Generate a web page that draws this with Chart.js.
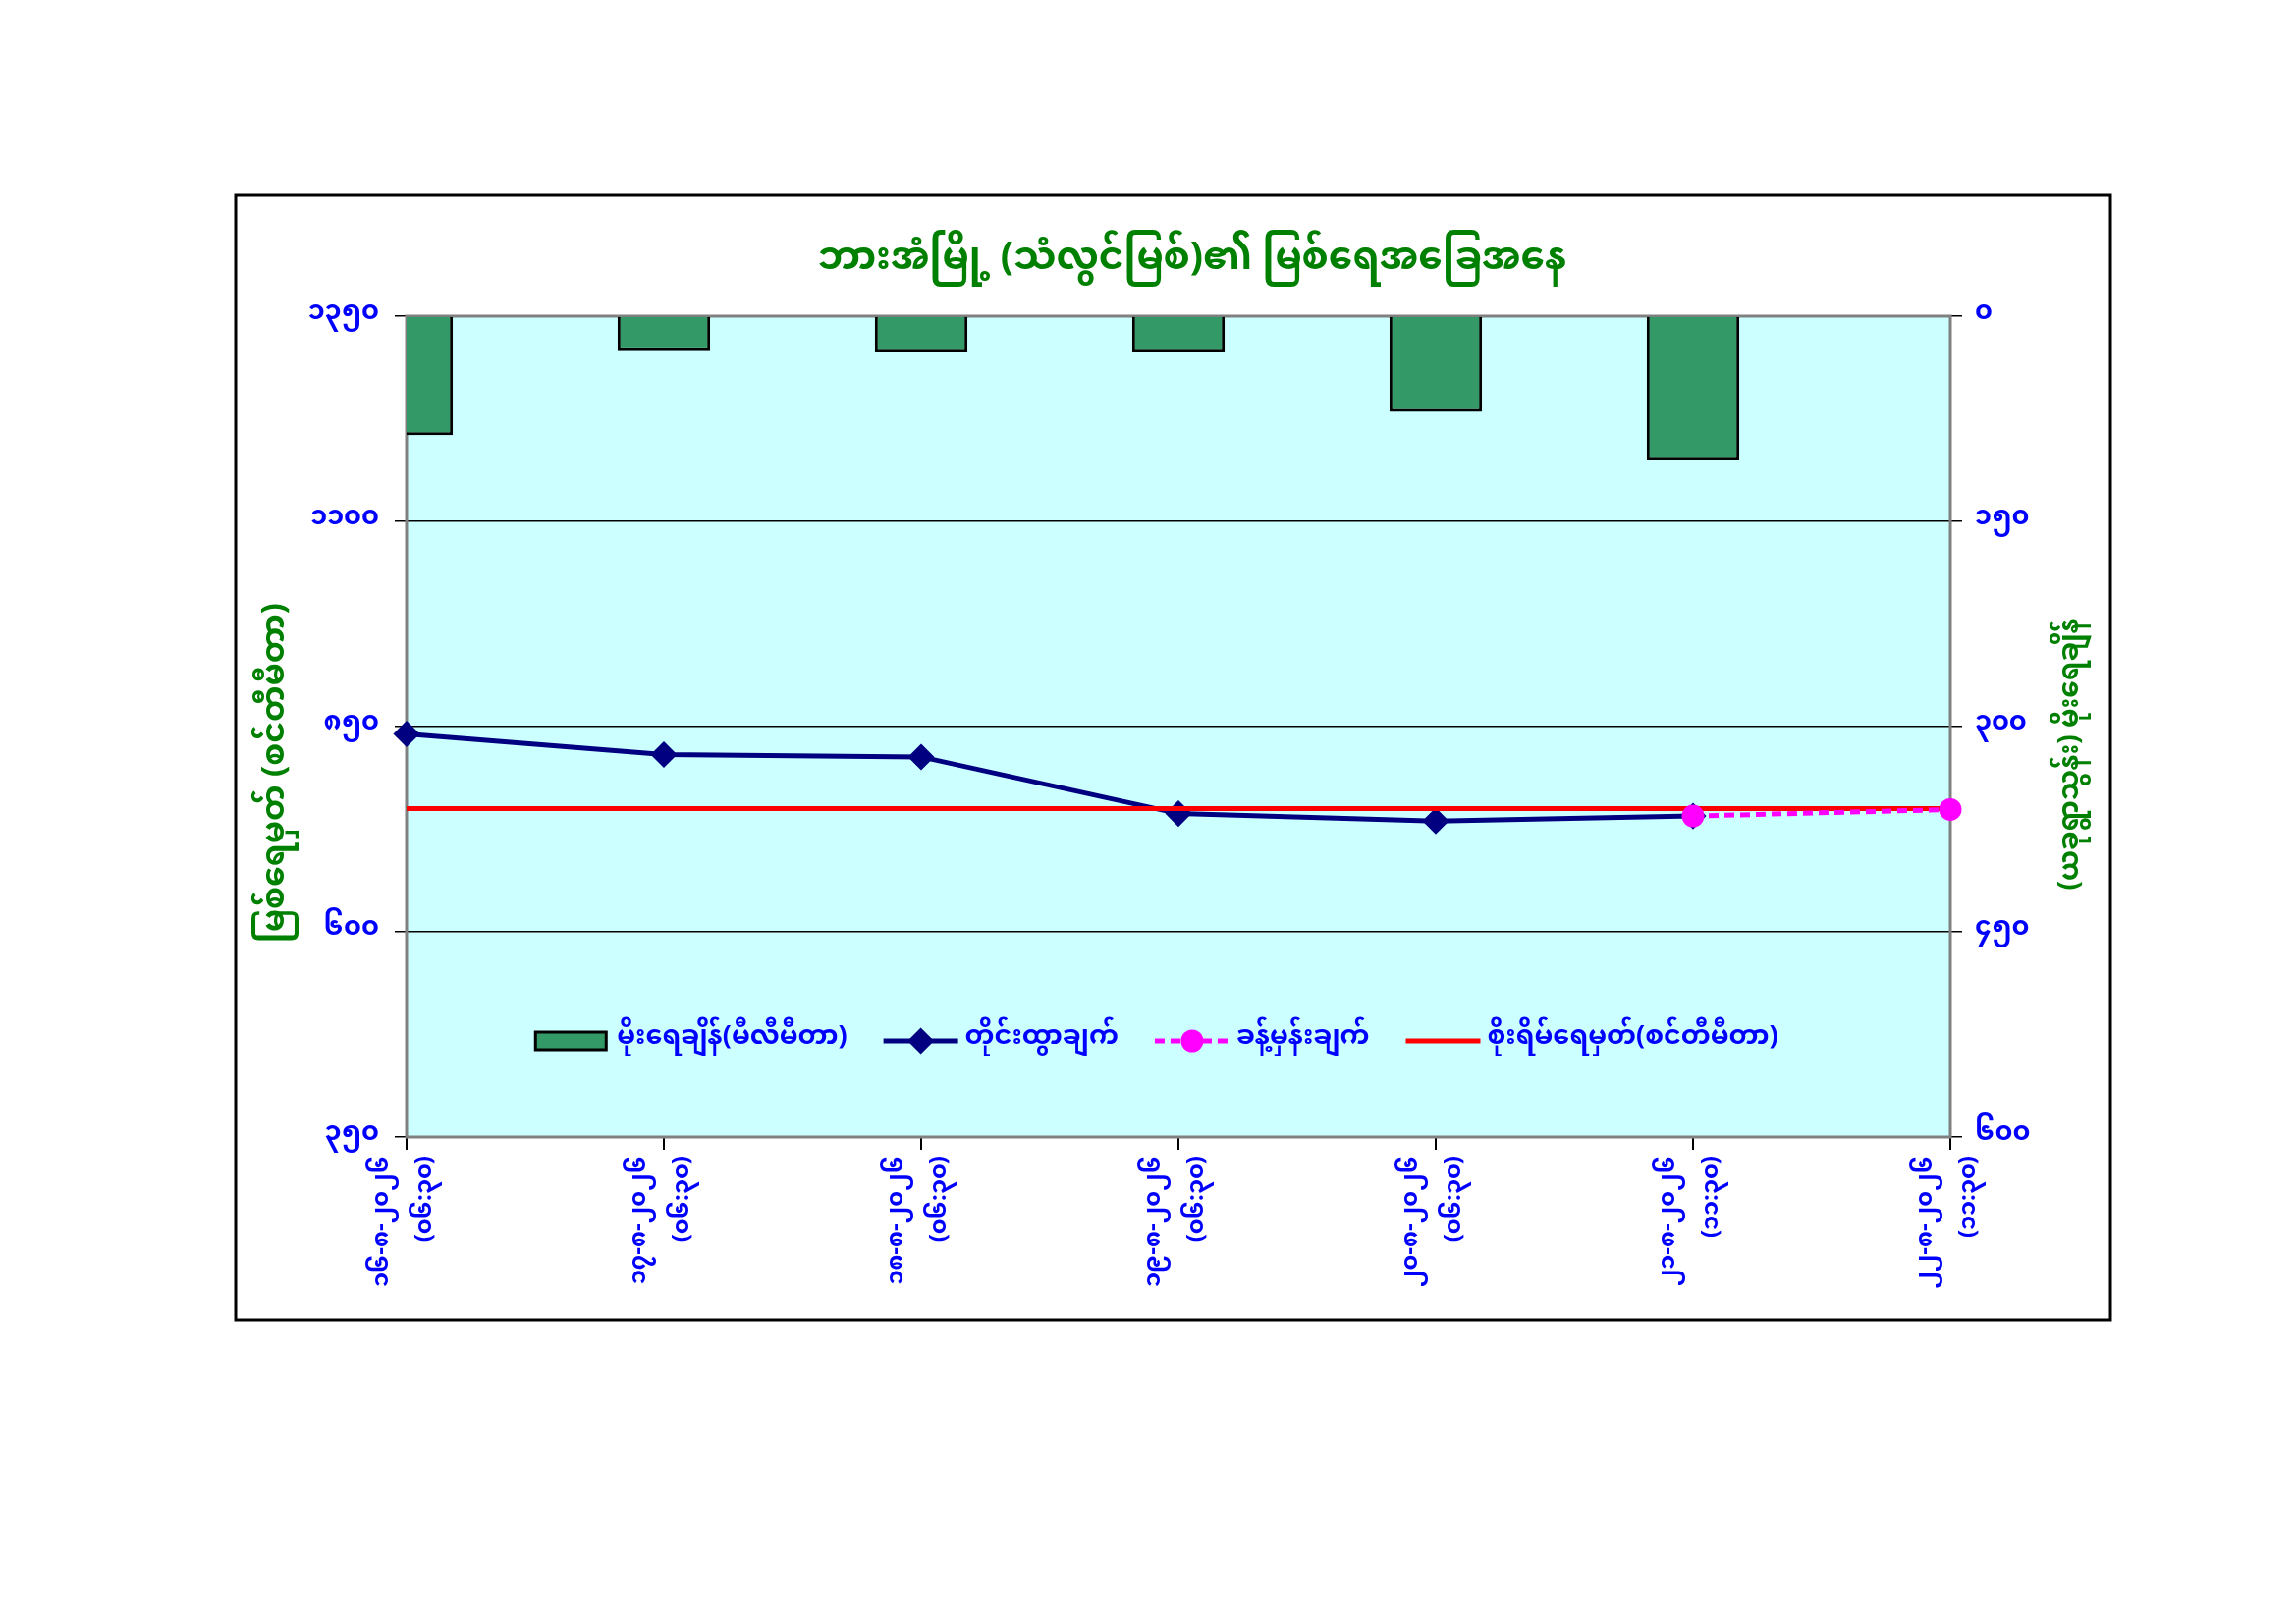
<!DOCTYPE html>
<html>
<head>
<meta charset="utf-8">
<title>ဘားအံမြို့ မြစ်ရေအခြေအနေ</title>
<script src="https://cdn.jsdelivr.net/npm/chart.js@4.4.1/dist/chart.umd.min.js"></script>
<style>
    html, body { margin: 0; padding: 0; background: #ffffff; }
    canvas { display: block; }
</style>
</head>
<body>
<canvas id="riverChart" width="2338" height="1654" style="width:2338px;height:1654px"></canvas>
<script>
// ---- Data ----
const dateLabels = ["၁၆-၈-၂၀၂၆", "၁၇-၈-၂၀၂၆", "၁၈-၈-၂၀၂၆", "၁၉-၈-၂၀၂၆", "၂၀-၈-၂၀၂၆", "၂၁-၈-၂၀၂၆", "၂၂-၈-၂၀၂၆"];
const timeLabels = ["(၀၆:၃၀)", "(၀၆:၃၀)", "(၀၆:၃၀)", "(၀၆:၃၀)", "(၀၆:၃၀)", "(၁၁:၃၀)", "(၁၁:၃၀)"];

const rainfall = [87, 25, 26, 26, 70, 105, null];          // mm, right axis (reversed)
const waterLevel = [841, 816, 813, 744, 735, 741, null];   // cm, left axis
const forecast = [null, null, null, null, null, 741, 749]; // cm
const warningLevel = [750, 750, 750, 750, 750, 750, 750];  // cm

const levelTickValues = [350, 600, 850, 1100, 1350];
const levelTicks = ["၃၅၀", "၆၀၀", "၈၅၀", "၁၁၀၀", "၁၃၅၀"];
const rainTickValues = [0, 150, 300, 450, 600];
const rainTicks = ["၀", "၁၅၀", "၃၀၀", "၄၅၀", "၆၀၀"];

const chartTitle = "ဘားအံမြို့ (သံလွင်မြစ်)၏ မြစ်ရေအခြေအနေ";
const leftTitle = "မြစ်ရေမှတ် (စင်တီမီတာ)";
const rightTitle = "(ယခုရွာသွန်း) မိုးရေချိန်";

const FONT = "'Noto Sans Myanmar', 'Padauk', 'Myanmar Text', 'Noto Sans', 'DejaVu Sans', sans-serif";
const BLUE = "#0000ff";
const GREEN = "#008000";

// ---- Plugins ----
// plot background + border + outer frame
const framePlugin = {
    id: "frame",
    beforeDraw(chart) {
        const { ctx, chartArea: a } = chart;
        ctx.save();
        ctx.fillStyle = "#ffffff";
        ctx.fillRect(0, 0, chart.width, chart.height);
        ctx.fillStyle = "#ccffff";
        ctx.fillRect(a.left, a.top, a.right - a.left, a.bottom - a.top);
        ctx.restore();
    },
    beforeDatasetsDraw(chart) {
        const { ctx, chartArea: a } = chart;
        ctx.save();
        ctx.strokeStyle = "#808080";
        ctx.lineWidth = 3;
        ctx.strokeRect(a.left, a.top, a.right - a.left, a.bottom - a.top);
        ctx.restore();
    },
    afterDraw(chart) {
        const { ctx } = chart;
        ctx.save();
        ctx.strokeStyle = "#000000";
        ctx.lineWidth = 3;
        ctx.strokeRect(240, 199, 1909, 1145);
        ctx.restore();
    },
};

// chart title + axis titles (both axis titles read bottom to top)
const titlesPlugin = {
    id: "titles",
    afterDraw(chart) {
        const { ctx, chartArea: a } = chart;
        const mid = (a.top + a.bottom) / 2;
        ctx.save();
        ctx.fillStyle = GREEN;
        ctx.textAlign = "center";
        ctx.textBaseline = "middle";

        ctx.font = "bold 39px " + FONT;
        ctx.fillText(chartTitle, (a.left + a.right) / 2 + 14, a.top - 52);

        [[a.left - 129, mid + 47, leftTitle, 33], [a.right + 127, mid + 28, rightTitle, 28]].forEach(([x, y, t, size]) => {
            ctx.save();
            ctx.font = "bold " + size + "px " + FONT;
            ctx.translate(x, y);
            ctx.rotate(-Math.PI / 2);
            ctx.fillText(t, 0, 0);
            ctx.restore();
        });
        ctx.restore();
    },
};

// legend drawn inside the plot area
const insideLegendPlugin = {
    id: "insideLegend",
    afterDatasetsDraw(chart) {
        const { ctx, chartArea: a } = chart;
        const sets = chart.data.datasets;
        const y = a.bottom - 98;
        const sampleW = 76, gap = 7, itemGap = 37;
        ctx.save();
        ctx.font = "bold 27px " + FONT;
        ctx.textBaseline = "middle";
        const widths = sets.map((d) => sampleW + gap + ctx.measureText(d.label).width);
        const total = widths.reduce((s, w) => s + w, 0) + itemGap * (sets.length - 1);
        let x = (a.left + a.right) / 2 - 22 - total / 2;

        sets.forEach((d, i) => {
            if (d.type === "bar") {
                ctx.fillStyle = d.backgroundColor;
                ctx.fillRect(x, y - 9, sampleW - 4, 18);
                ctx.strokeStyle = "#000";
                ctx.lineWidth = 3;
                ctx.strokeRect(x, y - 9, sampleW - 4, 18);
            } else {
                ctx.strokeStyle = d.borderColor;
                ctx.lineWidth = d.borderWidth;
                ctx.setLineDash(d.borderDash || []);
                ctx.beginPath();
                ctx.moveTo(x, y);
                ctx.lineTo(x + sampleW, y);
                ctx.stroke();
                ctx.setLineDash([]);
                if (d.pointRadius > 0) {
                    Chart.helpers.drawPoint(ctx, {
                        pointStyle: d.pointStyle,
                        radius: d.pointRadius,
                        rotation: 0,
                        borderWidth: 1,
                    }, x + sampleW / 2, y);
                    ctx.fillStyle = d.pointBackgroundColor;
                    ctx.fill();
                }
            }
            ctx.fillStyle = BLUE;
            ctx.textAlign = "left";
            ctx.fillText(d.label, x + sampleW + gap, y);
            x += widths[i] + itemGap;
        });
        ctx.restore();
    },
};

// ---- Chart ----
const PLOT_LEFT = 414, PLOT_RIGHT = 1986, PLOT_TOP = 322, PLOT_BOTTOM = 1158;
const LEFT_W = 164, RIGHT_W = 100, X_H = 170;

new Chart(document.getElementById("riverChart"), {
    data: {
        labels: dateLabels.map((d, i) => [d, timeLabels[i]]),
        datasets: [
            {
                type: "bar",
                label: "မိုးရေချိန်(မီလီမီတာ)",
                data: rainfall,
                yAxisID: "y1",
                backgroundColor: "#339966",
                borderColor: "#000000",
                borderWidth: 3,
                barPercentage: 0.36,
                categoryPercentage: 1,
                order: 4,
            },
            {
                type: "line",
                label: "တိုင်းထွာချက်",
                data: waterLevel,
                yAxisID: "y",
                borderColor: "#000080",
                backgroundColor: "#000080",
                pointBackgroundColor: "#000080",
                pointBorderColor: "#000080",
                borderWidth: 5,
                pointStyle: "rectRot",
                pointRadius: 10,
                tension: 0,
                clip: false,
                order: 3,
            },
            {
                type: "line",
                label: "ခန့်မှန်းချက်",
                data: forecast,
                yAxisID: "y",
                borderColor: "#ff00ff",
                backgroundColor: "#ff00ff",
                pointBackgroundColor: "#ff00ff",
                pointBorderColor: "#ff00ff",
                borderWidth: 5,
                borderDash: [10, 6],
                pointStyle: "circle",
                pointRadius: 9,
                clip: false,
                order: 1,
            },
            {
                type: "line",
                label: "စိုးရိမ်ရေမှတ်(စင်တီမီတာ)",
                data: warningLevel,
                yAxisID: "y",
                borderColor: "#ff0000",
                backgroundColor: "#ff0000",
                borderWidth: 5,
                pointRadius: 0,
                pointStyle: "line",
                order: 2,
            },
        ],
    },
    options: {
        responsive: false,
        devicePixelRatio: 1,
        animation: false,
        layout: {
            padding: {
                left: PLOT_LEFT - LEFT_W,
                right: 2338 - PLOT_RIGHT - RIGHT_W,
                top: PLOT_TOP,
                bottom: 1654 - PLOT_BOTTOM - X_H,
            },
        },
        plugins: {
            legend: { display: false },
            tooltip: { enabled: false },
            title: { display: false },
        },
        scales: {
            x: {
                type: "category",
                offset: false,
                grid: { offset: false, drawOnChartArea: false, drawTicks: true, tickLength: 13, color: "#000", lineWidth: 2 },
                border: { display: false },
                ticks: {
                    color: BLUE,
                    font: { family: FONT, size: 24, weight: "bold", lineHeight: 1.85 },
                    minRotation: 90,
                    maxRotation: 90,
                    autoSkip: false,
                    padding: 6,
                    labelOffset: -22,
                },
                afterFit: (s) => { s.height = X_H; },
            },
            y: {
                position: "left",
                min: 350,
                max: 1350,
                grid: { color: "#000", lineWidth: 1.5, tickLength: 12, tickColor: "#000" },
                border: { display: false },
                ticks: {
                    stepSize: 250,
                    color: BLUE,
                    padding: 16,
                    font: { family: FONT, size: 27, weight: "bold" },
                    callback: (v) => levelTicks[levelTickValues.indexOf(v)],
                },
                afterFit: (s) => { s.width = LEFT_W; },
            },
            y1: {
                position: "right",
                reverse: true,
                min: 0,
                max: 600,
                grid: { drawOnChartArea: false, tickLength: 12, color: "#000", lineWidth: 1.5 },
                border: { display: false },
                ticks: {
                    stepSize: 150,
                    color: BLUE,
                    padding: 13,
                    font: { family: FONT, size: 27, weight: "bold" },
                    callback: (v) => rainTicks[rainTickValues.indexOf(v)],
                },
                afterFit: (s) => { s.width = RIGHT_W; },
            },
        },
    },
    plugins: [framePlugin, titlesPlugin, insideLegendPlugin],
});
</script>
</body>
</html>
